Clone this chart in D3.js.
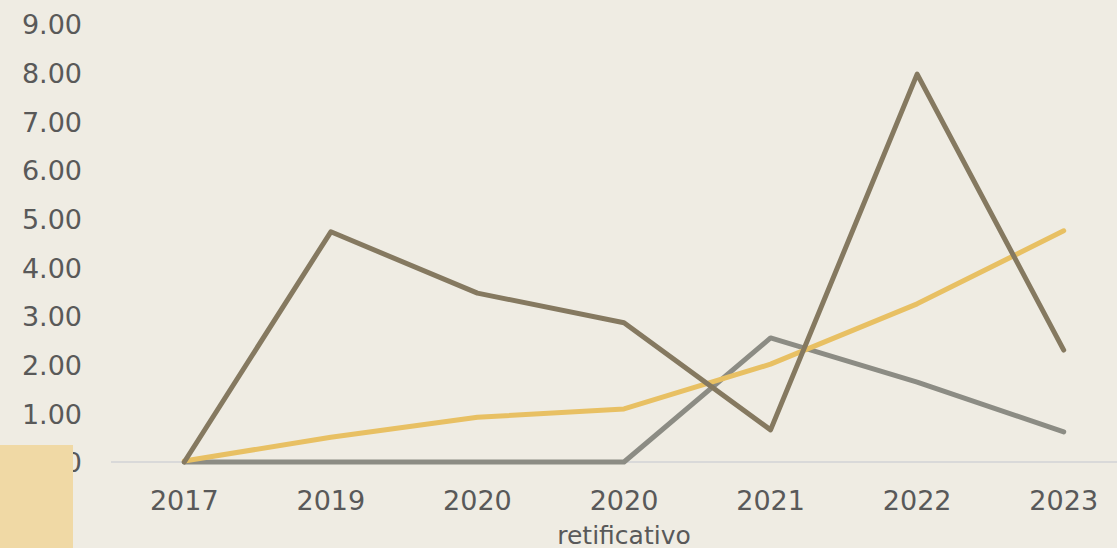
<!DOCTYPE html>
<html>
<head>
<meta charset="utf-8">
<script src="https://cdn.jsdelivr.net/npm/d3@7"></script>
<style>
  html, body { margin: 0; padding: 0; background: #efece3; overflow: hidden; }
  svg { display: block; }
  .tick text { font-family: "DejaVu Sans", Verdana, sans-serif; fill: #595959; }
</style>
</head>
<body>
<svg id="chart" width="1117" height="548"></svg>
<script>
// categories (second line of label after "|")
const categories = ["2017", "2019", "2020", "2020|retificativo", "2021", "2022", "2023"];
const yTicks = [0, 1, 2, 3, 4, 5, 6, 7, 8, 9];

const seriesBrown = [0, 4.73, 3.47, 2.86, 0.66, 7.97, 2.30];
const seriesYellow = [0.02, 0.51, 0.92, 1.09, 2.01, 3.25, 4.75];
const seriesGray = [0, 0, 0, 0, 2.55, 1.64, 0.62];

const series = [
  { name: "gray", values: seriesGray, color: "#8c8c84" },
  { name: "yellow", values: seriesYellow, color: "#e8c063" },
  { name: "brown", values: seriesBrown, color: "#857960" }
];

var svg = d3.select("#chart");

var x = d3.scaleBand()
          .domain(categories)
          .range([111, 1137]);

var y = d3.scaleLinear()
          .domain([0, 9])
          .range([462, 24]);

// y axis labels (no line)
var yAxis = svg.append("g")
   .attr("transform", "translate(82,0)")
   .call(d3.axisLeft(y).tickValues(yTicks).tickSize(0).tickPadding(0).tickFormat(d3.format(".2f")));
yAxis.select(".domain").remove();
yAxis.selectAll("text").attr("font-size", 27).attr("dy", "0.36em");

// baseline
svg.append("line")
   .attr("x1", 111).attr("x2", 1137)
   .attr("y1", y(0)).attr("y2", y(0))
   .attr("stroke", "#d9d9d9")
   .attr("stroke-width", 2);

// x axis labels
var xAxis = svg.append("g")
   .attr("transform", "translate(0," + y(0) + ")")
   .call(d3.axisBottom(x).tickSize(0).tickPadding(0).tickFormat(""));
xAxis.select(".domain").remove();
xAxis.selectAll(".tick").each(function (d) {
  var parts = d.split("|");
  var t = d3.select(this).append("text")
            .attr("text-anchor", "middle")
            .attr("fill", "#595959");
  t.append("tspan").attr("x", 0).attr("y", 48).attr("font-size", 27).text(parts[0]);
  if (parts[1]) {
    t.append("tspan").attr("x", 0).attr("y", 82).attr("font-size", 25).text(parts[1]);
  }
});

var line = d3.line()
             .x(function (d, i) { return x(categories[i]) + x.bandwidth() / 2; })
             .y(function (d) { return y(d); });

svg.selectAll(".series")
   .data(series)
   .enter()
   .append("path")
   .attr("class", "series")
   .attr("d", function (s) { return line(s.values); })
   .attr("fill", "none")
   .attr("stroke", function (s) { return s.color; })
   .attr("stroke-width", 5)
   .attr("stroke-linejoin", "round")
   .attr("stroke-linecap", "round");

// tan block in the lower left corner
svg.append("rect")
   .attr("x", 0).attr("y", 445)
   .attr("width", 73).attr("height", 103)
   .attr("fill", "#f0d9a5");
</script>
</body>
</html>
